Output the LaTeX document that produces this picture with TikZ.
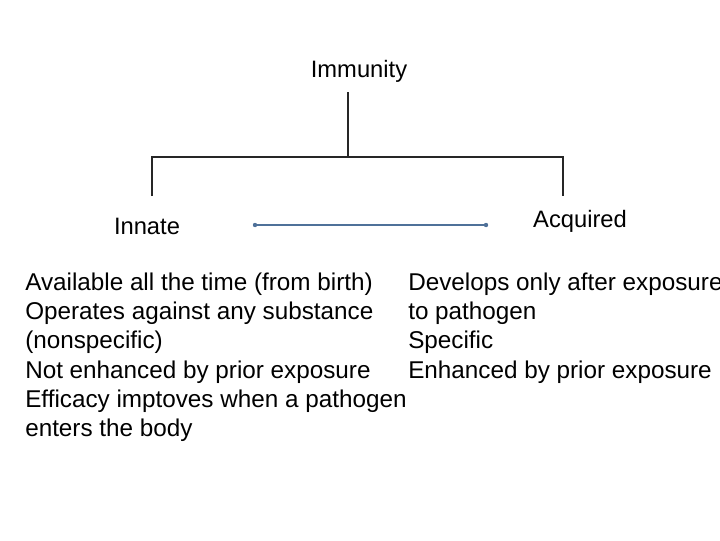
\documentclass[tikz,border=0pt]{standalone}
\usepackage{fontspec}
\setmainfont{Liberation Sans}
\begin{document}
\begin{tikzpicture}[x=0.75pt,y=-0.75pt,
  tree/.style={line width=1.9pt,black!85},
  lbl/.style={inner sep=0pt,font=\fontsize{17.8}{20}\selectfont},
  body/.style={inner sep=0pt,anchor=north west,align=left,font=\fontsize{18.2}{21.8}\selectfont}]
\useasboundingbox (0,0) rectangle (720,540);
\node[lbl] (imm) at (359,71) {Immunity};
\node[lbl] (inn) at (147,226) {Innate};
\node[lbl] (acq) at (580,221) {Acquired};
\coordinate (top) at (348,92);
\coordinate (mid) at (348,157);
\coordinate (l) at (152,157);
\coordinate (r) at (563,157);
\coordinate (lb) at (152,196);
\coordinate (rb) at (563,196);
\draw[tree] (top) -- (mid);
\draw[tree] (lb) -- (l) -- (r) -- (rb);
\coordinate (a1) at (255,225);
\coordinate (a2) at (486,225);
\draw[line width=1.3pt,color={rgb,255:red,79;green,113;blue,153}] (a1) -- (a2);
\fill[color={rgb,255:red,79;green,113;blue,153}] (a1) circle (2.2) (a2) circle (2.2);
\node[body] (lt) at (25,273) {Available all the time (from birth)\\Operates against any substance\\(nonspecific)\\Not enhanced by prior exposure\\Efficacy imptoves when a pathogen\\enters the body};
\node[body] (rt) at (408,273) {Develops only after exposure\\to pathogen\\Specific\\Enhanced by prior exposure};
\end{tikzpicture}
\end{document}
